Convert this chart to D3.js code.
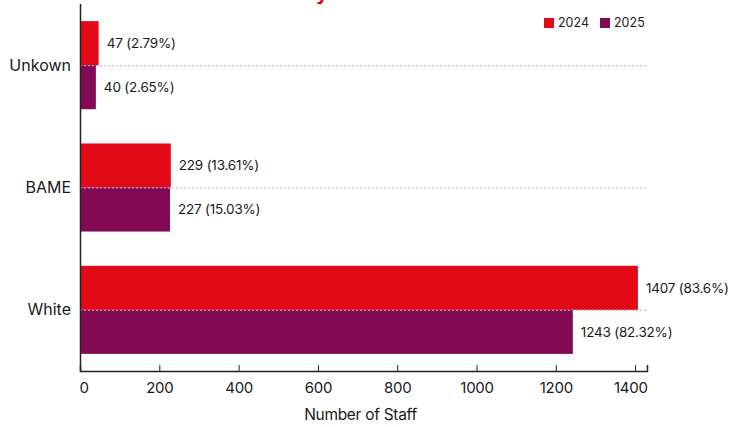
<!DOCTYPE html>
<html>
<head>
<meta charset="utf-8">
<script src="https://cdn.jsdelivr.net/npm/d3@7"></script>
<style>
  html, body { margin: 0; padding: 0; background: #fff; }
  svg { display: block; font-family: Inter, "Noto Sans", sans-serif; }
</style>
</head>
<body>
<svg id="chart" width="730" height="427"></svg>
<script>
// Staff counts by ethnicity, two reporting years
const categories = ["Unkown", "BAME", "White"];
const years = ["2024", "2025"];
const staff2024 = [47, 229, 1407];
const staff2025 = [40, 227, 1243];
const pct2024 = ["2.79%", "13.61%", "83.6%"];
const pct2025 = ["2.65%", "15.03%", "82.32%"];
const xTicks = [0, 200, 400, 600, 800, 1000, 1200, 1400];
const colors = ["#e20a17", "#820a55"];

const rows = categories.map((c, i) => ({
  category: c,
  values: [
    { year: years[0], value: staff2024[i], pct: pct2024[i] },
    { year: years[1], value: staff2025[i], pct: pct2025[i] }
  ]
}));

const svg = d3.select("#chart");
const margin = { top: 4, right: 83, bottom: 56, left: 80 };
const W = 730, H = 427;
const innerW = W - margin.left - margin.right;
const innerH = H - margin.top - margin.bottom;

const g = svg.append("g").attr("transform", `translate(${margin.left},${margin.top})`);

const x = d3.scaleLinear().domain([0, 1430]).range([0, innerW]);
const y0 = d3.scaleBand().domain(categories).range([0, innerH]).paddingInner(0.28).paddingOuter(0.14);
const y1 = d3.scaleBand().domain(years).range([0, y0.bandwidth()]);
const color = d3.scaleOrdinal().domain(years).range(colors);

// Title (mostly above the visible area)
svg.append("text")
  .attr("x", 328).attr("y", -0.5)
  .attr("text-anchor", "end")
  .attr("fill", "#e20a17")
  .attr("font-size", 20).attr("font-weight", 700)
  .text("Staff Ethnicity");

// Bars
const groups = g.selectAll(".grp").data(rows).join("g")
  .attr("class", "grp")
  .attr("transform", d => `translate(0,${y0(d.category)})`);

groups.selectAll("rect").data(d => d.values).join("rect")
  .attr("x", 0)
  .attr("y", d => y1(d.year))
  .attr("width", d => x(d.value))
  .attr("height", y1.bandwidth())
  .attr("fill", d => color(d.year));

// Value labels
groups.selectAll("text.val").data(d => d.values).join("text")
  .attr("class", "val")
  .attr("x", d => x(d.value) + 8)
  .attr("y", d => y1(d.year) + y1.bandwidth() / 2)
  .attr("dy", "0.35em")
  .attr("font-size", 13.5)
  .attr("fill", "#1a1a1a")
  .attr("letter-spacing", "-0.2")
  .text(d => `${d.value} (${d.pct})`);

// Dotted category gridlines, drawn over the bars
g.selectAll("line.grid").data(categories).join("line")
  .attr("class", "grid")
  .attr("x1", 0).attr("x2", innerW)
  .attr("y1", d => y0(d) + y0.bandwidth() / 2 + 0.5)
  .attr("y2", d => y0(d) + y0.bandwidth() / 2 + 0.5)
  .attr("stroke", "#b8b8b8")
  .attr("stroke-width", 1)
  .attr("stroke-dasharray", "2,2");

// Category labels
g.selectAll("text.cat").data(categories).join("text")
  .attr("class", "cat")
  .attr("x", -9)
  .attr("y", d => y0(d) + y0.bandwidth() / 2)
  .attr("dy", "0.35em")
  .attr("text-anchor", "end")
  .attr("font-size", 16)
  .attr("fill", "#1a1a1a")
  .text(d => d);

// Left axis line
g.append("line")
  .attr("x1", 0.5).attr("x2", 0.5)
  .attr("y1", 0).attr("y2", innerH)
  .attr("stroke", "#222").attr("stroke-width", 1.5);

// Bottom axis with inward ticks
const xAxis = d3.axisBottom(x).tickValues(xTicks).tickFormat(d3.format("d"))
  .tickSizeInner(-6).tickSizeOuter(-6).tickPadding(11);
const ax = g.append("g").attr("transform", `translate(0,${innerH})`).call(xAxis);
ax.select(".domain").attr("stroke", "#222").attr("stroke-width", 1.5);
ax.selectAll(".tick line").attr("stroke", "#222");
ax.selectAll(".tick text")
  .attr("font-size", 15)
  .attr("font-family", "Inter, 'Noto Sans', sans-serif")
  .attr("fill", "#1a1a1a")
  .attr("letter-spacing", "-0.3")
  .attr("text-anchor", d => d === 0 ? "start" : (d === 1400 ? "end" : "middle"))
  .attr("dx", d => d === 0 ? -1 : (d === 1400 ? 12 : 0));

// Axis title
g.append("text")
  .attr("x", innerW / 2 - 3).attr("y", innerH + 49)
  .attr("text-anchor", "middle")
  .attr("font-size", 15.5)
  .attr("fill", "#1a1a1a")
  .attr("letter-spacing", "-0.3")
  .text("Number of Staff");

// Legend
const legend = svg.append("g").attr("transform", "translate(544,18)");
const li = legend.selectAll("g").data(years).join("g")
  .attr("transform", (d, i) => `translate(${i * 56},0)`);
li.append("rect").attr("width", 10).attr("height", 10).attr("fill", d => color(d));
li.append("text").attr("x", 14).attr("y", 5).attr("dy", "0.35em")
  .attr("font-size", 12.5).attr("fill", "#1a1a1a").text(d => d);
</script>
</body>
</html>
